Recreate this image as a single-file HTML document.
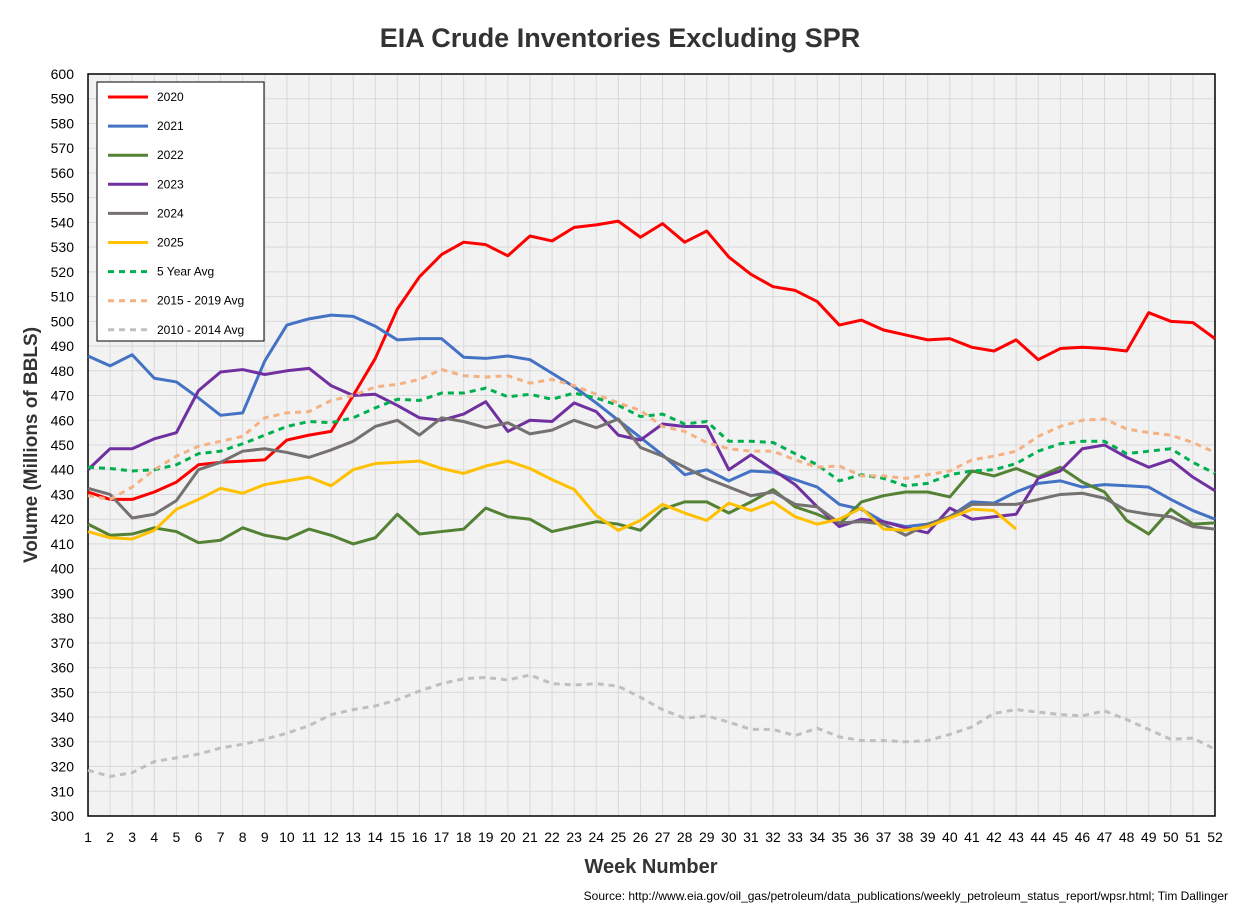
<!DOCTYPE html>
<html><head><meta charset="utf-8"><style>
body{margin:0;background:#fff;font-family:"Liberation Sans",sans-serif}
svg{display:block}
</style></head><body>
<svg id="c" width="1242" height="912">
<rect width="1242" height="912" fill="#fff"/>
<text x="620" y="47" text-anchor="middle" font-size="27" font-weight="bold" fill="#333">EIA Crude Inventories Excluding SPR</text>
<text transform="translate(37,445) rotate(-90)" text-anchor="middle" font-size="19" font-weight="bold" fill="#333">Volume (Millions of BBLS)</text>
<text x="651" y="873" text-anchor="middle" font-size="20" font-weight="bold" fill="#333">Week Number</text>
<text x="1228" y="900" text-anchor="end" font-size="12" fill="#000">Source: http://www.eia.gov/oil_gas/petroleum/data_publications/weekly_petroleum_status_report/wpsr.html; Tim Dallinger</text>
<g id="plot"></g>
</svg>
<script>
const weeks = Array.from({length:52},(_,i)=>i+1);
const yTicks = [300,310,320,330,340,350,360,370,380,390,400,410,420,430,440,450,460,470,480,490,500,510,520,530,540,550,560,570,580,590,600];
const seriesNames = ["2020","2021","2022","2023","2024","2025","5 Year Avg","2015 - 2019 Avg","2010 - 2014 Avg"];
const s2020 = [431,428,428,431,435,442,443,443.5,444,452,454,455.5,470,485,505,518,527,532,531,526.5,534.5,532.5,538,539,540.5,534,539.5,532,536.5,526,519,514,512.5,508,498.5,500.5,496.5,494.5,492.5,493,489.5,488,492.5,484.5,489,489.5,489,488,503.5,500,499.5,493];
const s2021 = [486,482,486.5,477,475.5,469,462,463,484,498.5,501,502.5,502,498,492.5,493,493,485.5,485,486,484.5,479,473.5,467,460,453,446,438,440,435.5,439.5,439,436,433,426,424,419,417,418,421,427,426.5,431,434.5,435.5,433,434,433.5,433,428,423.5,420];
const s2022 = [418,413.5,414,416.5,415,410.5,411.5,416.5,413.5,412,416,413.5,410,412.5,422,414,415,416,424.5,421,420,415,417,419,418,415.5,424,427,427,422.5,427,432,425,422,418,427,429.5,431,431,429,439.5,437.5,440.5,437,441,435,431,419.5,414,424,418,418.5];
const s2023 = [440,448.5,448.5,452.5,455,472,479.5,480.5,478.5,480,481,474,470,470.5,466,461,460,462.5,467.5,455.5,460,459.5,467,463.5,454,452,458.5,457.5,457.5,440,446,440,434,425,417,420,419,416.5,414.5,424.5,420,421,422,436.5,439.5,448.5,450,445,441,444,437,431.5];
const s2024 = [432.5,430,420.5,422,427.5,440,443,447.5,448.5,447,445,448,451.5,457.5,460,454,461,459.5,457,459,454.5,456,460,457,460.5,449,445.5,441,436.5,433,429.5,431,426,425,418.5,419,418,413.5,418,421,426,426,426,428,430,430.5,428.5,423.5,422,421,417,416];
const s2025 = [415,412.5,412,415.5,424,428,432.5,430.5,434,435.5,437,433.5,440,442.5,443,443.5,440.5,438.5,441.5,443.5,440.5,436,432,421.5,415.5,419.5,426,422.5,419.5,426.5,423.5,427,421,418,420,424.5,416,415.5,417,420.5,424,423.5,416];
const s5yr = [441,440.5,439.5,440,442,446.5,447.5,450.5,454,457.5,459.5,459,461,465,468.5,468,471,471,473,469.5,470.5,468.5,471,469,466,461.5,462.5,458.5,459.5,451.5,451.5,451,446.5,442,435.5,438,436.5,433.5,434.5,438,439.5,440,442.5,447.5,450.5,451.5,451.5,446.5,447.5,448.5,443,438.5];
const s1519 = [429.5,428,433,440,445.5,449.5,451.5,453.5,461,463,463.5,468,470,473.5,474.5,476.5,480.5,478,477.5,478,475,476.5,474,470.5,467,464,457.5,455.5,451,448.5,447.5,447.5,444,441,441.5,437.5,437.5,436.5,438,439.5,444,445.5,447.5,453.5,457.5,460,460.5,456.5,455,454,451,447];
const s1014 = [318.5,316,317.5,322,323.5,325,327.5,329,331,333.5,336.5,341,343,344.5,347,350.5,353.5,355.5,356,355,357,353.5,353,353.5,352.5,348,343,339.5,340.5,338,335,335,332.5,335.5,332,330.5,330.5,330,330.5,333,336,341.5,343,342,341,340.5,342.5,339,335,331,331.5,327];

const L=88,R=1215,T=74,B=816;
const X=w=>L+(w-1)*(R-L)/51;
const Y=v=>B-(v-300)*(B-T)/300;
const NS="http://www.w3.org/2000/svg";
const g=document.getElementById('plot');
function el(t,a,p){const e=document.createElementNS(NS,t);for(const k in a)e.setAttribute(k,a[k]);(p||g).appendChild(e);return e;}
const bg=el('rect',{x:L,y:T,width:R-L,height:B-T,fill:'#f2f2f2'});


yTicks.forEach(v=>{
  el('line',{x1:L,x2:R,y1:Y(v),y2:Y(v),stroke:'#d9d9d9','stroke-width':1});
  const t=el('text',{x:L-14,y:Y(v)+5,'text-anchor':'end','font-size':14,fill:'#000'});t.textContent=v;
  
  
});
weeks.forEach(w=>{
  el('line',{x1:X(w),x2:X(w),y1:T,y2:B,stroke:'#d9d9d9','stroke-width':1});
  const t=el('text',{x:X(w),y:B+26,'text-anchor':'middle','font-size':14,fill:'#000'});t.textContent=w;
  
  
});
el('rect',{x:L,y:T,width:R-L,height:B-T,fill:'none',stroke:'#000','stroke-width':1.5});
const colors=['#ff0000','#4472c4','#548235','#7030a0','#767171','#ffc000','#00b050','#f4b183','#bfbfbf'];
const data=[s2020,s2021,s2022,s2023,s2024,s2025,s5yr,s1519,s1014];
const dashed=[0,0,0,0,0,0,1,1,1];
data.forEach((d,i)=>{
  const p=el('polyline',{points:d.map((v,j)=>X(weeks[j])+','+Y(v)).join(' '),fill:'none',stroke:colors[i],'stroke-width':3,'stroke-linejoin':'round'});
  if(dashed[i])p.setAttribute('stroke-dasharray','6,5');
  
  
});
const lg=el('g',{});


el('rect',{x:97,y:82,width:167,height:259,fill:'#fff',stroke:'#000','stroke-width':1},lg);
seriesNames.forEach((n,i)=>{
  const y=97+i*29.1;
  const e=el('g',{},lg);
  
  
  const l=el('line',{x1:108,x2:148,y1:y,y2:y,stroke:colors[i],'stroke-width':3},e);
  if(dashed[i])l.setAttribute('stroke-dasharray','6,5');
  const t=el('text',{x:157,y:y+4,'font-size':12,fill:'#000'},e);t.textContent=n;
});
</script>
</body></html>
